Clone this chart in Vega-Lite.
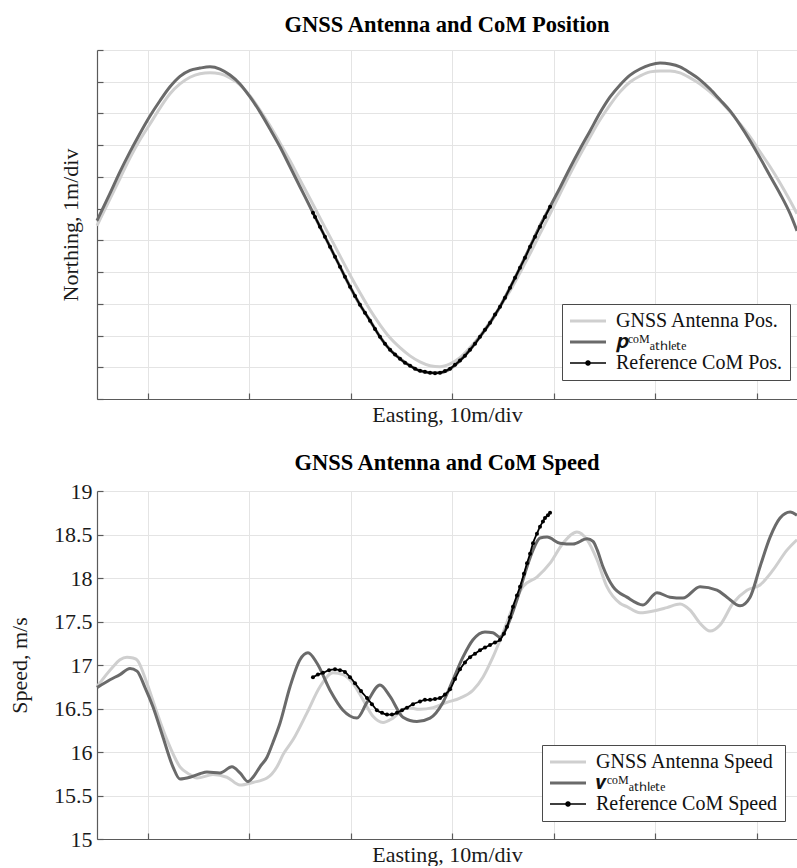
{
  "$schema": "https://vega.github.io/schema/vega-lite/v6.json",
  "padding": {"left": 8, "right": 0, "top": 13, "bottom": 0},
  "background": "white",
  "config": {
    "font": "Liberation Serif",
    "view": {"stroke": null},
    "title": {"font": "Liberation Serif", "fontSize": 22.5, "fontWeight": "bold", "color": "#000", "anchor": "middle", "frame": "group", "offset": 13},
    "axis": {
      "domainColor": "#5a5a5a", "domainWidth": 1.2, "tickColor": "#5a5a5a", "tickSize": -6, "tickWidth": 1.2,
      "grid": true, "gridColor": "#e4e4e4", "gridWidth": 1,
      "labelFont": "Liberation Serif", "labelFontSize": 22, "labelColor": "#1a1a1a", "labelPadding": 11,
      "titleFont": "Liberation Serif", "titleFontSize": 22, "titleFontWeight": "normal", "titleColor": "#1a1a1a"
    },
    "legend": {"labelFont": "Liberation Serif", "labelFontSize": 20, "labelColor": "#111", "labelLimit": 400}
  },
  "datasets": {
    "pos": [
      {"series":"GNSS Antenna Pos.","e":5.00,"n":5.46},{"series":"GNSS Antenna Pos.","e":6.28,"n":6.31},{"series":"GNSS Antenna Pos.","e":7.26,"n":6.95},{"series":"GNSS Antenna Pos.","e":8.25,"n":7.60},{"series":"GNSS Antenna Pos.","e":9.23,"n":8.17},{"series":"GNSS Antenna Pos.","e":10.22,"n":8.67},{"series":"GNSS Antenna Pos.","e":11.20,"n":9.17},{"series":"GNSS Antenna Pos.","e":12.19,"n":9.62},{"series":"GNSS Antenna Pos.","e":13.17,"n":9.93},{"series":"GNSS Antenna Pos.","e":14.16,"n":10.14},{"series":"GNSS Antenna Pos.","e":15.14,"n":10.25},{"series":"GNSS Antenna Pos.","e":16.13,"n":10.28},{"series":"GNSS Antenna Pos.","e":17.11,"n":10.25},{"series":"GNSS Antenna Pos.","e":18.10,"n":10.12},{"series":"GNSS Antenna Pos.","e":19.08,"n":9.90},{"series":"GNSS Antenna Pos.","e":20.07,"n":9.55},{"series":"GNSS Antenna Pos.","e":21.05,"n":9.11},{"series":"GNSS Antenna Pos.","e":22.04,"n":8.61},{"series":"GNSS Antenna Pos.","e":23.02,"n":8.07},{"series":"GNSS Antenna Pos.","e":24.01,"n":7.51},{"series":"GNSS Antenna Pos.","e":24.99,"n":6.91},{"series":"GNSS Antenna Pos.","e":25.98,"n":6.31},{"series":"GNSS Antenna Pos.","e":26.96,"n":5.71},{"series":"GNSS Antenna Pos.","e":27.95,"n":5.11},{"series":"GNSS Antenna Pos.","e":28.93,"n":4.51},{"series":"GNSS Antenna Pos.","e":29.92,"n":3.91},{"series":"GNSS Antenna Pos.","e":30.90,"n":3.35},{"series":"GNSS Antenna Pos.","e":31.89,"n":2.81},{"series":"GNSS Antenna Pos.","e":32.87,"n":2.34},{"series":"GNSS Antenna Pos.","e":33.86,"n":1.93},{"series":"GNSS Antenna Pos.","e":34.84,"n":1.62},{"series":"GNSS Antenna Pos.","e":35.83,"n":1.36},{"series":"GNSS Antenna Pos.","e":36.81,"n":1.17},{"series":"GNSS Antenna Pos.","e":37.80,"n":1.05},{"series":"GNSS Antenna Pos.","e":38.78,"n":1.02},{"series":"GNSS Antenna Pos.","e":39.77,"n":1.11},{"series":"GNSS Antenna Pos.","e":40.75,"n":1.30},{"series":"GNSS Antenna Pos.","e":41.74,"n":1.62},{"series":"GNSS Antenna Pos.","e":42.72,"n":1.99},{"series":"GNSS Antenna Pos.","e":43.71,"n":2.43},{"series":"GNSS Antenna Pos.","e":44.69,"n":2.91},{"series":"GNSS Antenna Pos.","e":45.68,"n":3.41},{"series":"GNSS Antenna Pos.","e":46.66,"n":3.98},{"series":"GNSS Antenna Pos.","e":47.65,"n":4.58},{"series":"GNSS Antenna Pos.","e":48.63,"n":5.21},{"series":"GNSS Antenna Pos.","e":49.62,"n":5.84},{"series":"GNSS Antenna Pos.","e":50.60,"n":6.47},{"series":"GNSS Antenna Pos.","e":51.59,"n":7.10},{"series":"GNSS Antenna Pos.","e":52.57,"n":7.69},{"series":"GNSS Antenna Pos.","e":53.56,"n":8.26},{"series":"GNSS Antenna Pos.","e":54.54,"n":8.80},{"series":"GNSS Antenna Pos.","e":55.53,"n":9.27},{"series":"GNSS Antenna Pos.","e":56.51,"n":9.68},{"series":"GNSS Antenna Pos.","e":57.50,"n":9.99},{"series":"GNSS Antenna Pos.","e":58.48,"n":10.18},{"series":"GNSS Antenna Pos.","e":59.47,"n":10.31},{"series":"GNSS Antenna Pos.","e":60.45,"n":10.34},{"series":"GNSS Antenna Pos.","e":61.44,"n":10.34},{"series":"GNSS Antenna Pos.","e":62.42,"n":10.28},{"series":"GNSS Antenna Pos.","e":63.41,"n":10.12},{"series":"GNSS Antenna Pos.","e":64.39,"n":9.93},{"series":"GNSS Antenna Pos.","e":65.38,"n":9.68},{"series":"GNSS Antenna Pos.","e":66.36,"n":9.40},{"series":"GNSS Antenna Pos.","e":67.35,"n":9.05},{"series":"GNSS Antenna Pos.","e":68.33,"n":8.67},{"series":"GNSS Antenna Pos.","e":69.32,"n":8.26},{"series":"GNSS Antenna Pos.","e":70.30,"n":7.79},{"series":"GNSS Antenna Pos.","e":71.29,"n":7.32},{"series":"GNSS Antenna Pos.","e":72.27,"n":6.81},{"series":"GNSS Antenna Pos.","e":73.26,"n":6.25},{"series":"GNSS Antenna Pos.","e":73.94,"n":5.84},
      {"series":"𝒑ᶜᵒᴹₐₜₕₗₑₜₑ","e":5.00,"n":5.62},{"series":"𝒑ᶜᵒᴹₐₜₕₗₑₜₑ","e":6.28,"n":6.48},{"series":"𝒑ᶜᵒᴹₐₜₕₗₑₜₑ","e":7.26,"n":7.16},{"series":"𝒑ᶜᵒᴹₐₜₕₗₑₜₑ","e":8.25,"n":7.79},{"series":"𝒑ᶜᵒᴹₐₜₕₗₑₜₑ","e":9.23,"n":8.37},{"series":"𝒑ᶜᵒᴹₐₜₕₗₑₜₑ","e":10.22,"n":8.92},{"series":"𝒑ᶜᵒᴹₐₜₕₗₑₜₑ","e":11.20,"n":9.40},{"series":"𝒑ᶜᵒᴹₐₜₕₗₑₜₑ","e":12.19,"n":9.84},{"series":"𝒑ᶜᵒᴹₐₜₕₗₑₜₑ","e":13.17,"n":10.17},{"series":"𝒑ᶜᵒᴹₐₜₕₗₑₜₑ","e":14.16,"n":10.36},{"series":"𝒑ᶜᵒᴹₐₜₕₗₑₜₑ","e":15.14,"n":10.43},{"series":"𝒑ᶜᵒᴹₐₜₕₗₑₜₑ","e":16.13,"n":10.47},{"series":"𝒑ᶜᵒᴹₐₜₕₗₑₜₑ","e":17.11,"n":10.40},{"series":"𝒑ᶜᵒᴹₐₜₕₗₑₜₑ","e":18.10,"n":10.21},{"series":"𝒑ᶜᵒᴹₐₜₕₗₑₜₑ","e":19.08,"n":9.93},{"series":"𝒑ᶜᵒᴹₐₜₕₗₑₜₑ","e":20.07,"n":9.52},{"series":"𝒑ᶜᵒᴹₐₜₕₗₑₜₑ","e":21.05,"n":9.05},{"series":"𝒑ᶜᵒᴹₐₜₕₗₑₜₑ","e":22.04,"n":8.51},{"series":"𝒑ᶜᵒᴹₐₜₕₗₑₜₑ","e":23.02,"n":7.95},{"series":"𝒑ᶜᵒᴹₐₜₕₗₑₜₑ","e":24.01,"n":7.32},{"series":"𝒑ᶜᵒᴹₐₜₕₗₑₜₑ","e":24.99,"n":6.69},{"series":"𝒑ᶜᵒᴹₐₜₕₗₑₜₑ","e":25.98,"n":6.06},{"series":"𝒑ᶜᵒᴹₐₜₕₗₑₜₑ","e":26.96,"n":5.43},{"series":"𝒑ᶜᵒᴹₐₜₕₗₑₜₑ","e":27.95,"n":4.80},{"series":"𝒑ᶜᵒᴹₐₜₕₗₑₜₑ","e":28.93,"n":4.17},{"series":"𝒑ᶜᵒᴹₐₜₕₗₑₜₑ","e":29.92,"n":3.54},{"series":"𝒑ᶜᵒᴹₐₜₕₗₑₜₑ","e":30.90,"n":2.97},{"series":"𝒑ᶜᵒᴹₐₜₕₗₑₜₑ","e":31.89,"n":2.47},{"series":"𝒑ᶜᵒᴹₐₜₕₗₑₜₑ","e":32.87,"n":1.96},{"series":"𝒑ᶜᵒᴹₐₜₕₗₑₜₑ","e":33.86,"n":1.55},{"series":"𝒑ᶜᵒᴹₐₜₕₗₑₜₑ","e":34.84,"n":1.27},{"series":"𝒑ᶜᵒᴹₐₜₕₗₑₜₑ","e":35.83,"n":1.05},{"series":"𝒑ᶜᵒᴹₐₜₕₗₑₜₑ","e":36.81,"n":0.89},{"series":"𝒑ᶜᵒᴹₐₜₕₗₑₜₑ","e":37.80,"n":0.83},{"series":"𝒑ᶜᵒᴹₐₜₕₗₑₜₑ","e":38.78,"n":0.83},{"series":"𝒑ᶜᵒᴹₐₜₕₗₑₜₑ","e":39.77,"n":0.95},{"series":"𝒑ᶜᵒᴹₐₜₕₗₑₜₑ","e":40.75,"n":1.21},{"series":"𝒑ᶜᵒᴹₐₜₕₗₑₜₑ","e":41.74,"n":1.55},{"series":"𝒑ᶜᵒᴹₐₜₕₗₑₜₑ","e":42.72,"n":1.96},{"series":"𝒑ᶜᵒᴹₐₜₕₗₑₜₑ","e":43.71,"n":2.40},{"series":"𝒑ᶜᵒᴹₐₜₕₗₑₜₑ","e":44.69,"n":2.91},{"series":"𝒑ᶜᵒᴹₐₜₕₗₑₜₑ","e":45.68,"n":3.51},{"series":"𝒑ᶜᵒᴹₐₜₕₗₑₜₑ","e":46.66,"n":4.14},{"series":"𝒑ᶜᵒᴹₐₜₕₗₑₜₑ","e":47.65,"n":4.80},{"series":"𝒑ᶜᵒᴹₐₜₕₗₑₜₑ","e":48.63,"n":5.46},{"series":"𝒑ᶜᵒᴹₐₜₕₗₑₜₑ","e":49.62,"n":6.06},{"series":"𝒑ᶜᵒᴹₐₜₕₗₑₜₑ","e":50.60,"n":6.66},{"series":"𝒑ᶜᵒᴹₐₜₕₗₑₜₑ","e":51.59,"n":7.29},{"series":"𝒑ᶜᵒᴹₐₜₕₗₑₜₑ","e":52.57,"n":7.88},{"series":"𝒑ᶜᵒᴹₐₜₕₗₑₜₑ","e":53.56,"n":8.45},{"series":"𝒑ᶜᵒᴹₐₜₕₗₑₜₑ","e":54.54,"n":9.02},{"series":"𝒑ᶜᵒᴹₐₜₕₗₑₜₑ","e":55.53,"n":9.52},{"series":"𝒑ᶜᵒᴹₐₜₕₗₑₜₑ","e":56.51,"n":9.90},{"series":"𝒑ᶜᵒᴹₐₜₕₗₑₜₑ","e":57.50,"n":10.21},{"series":"𝒑ᶜᵒᴹₐₜₕₗₑₜₑ","e":58.48,"n":10.40},{"series":"𝒑ᶜᵒᴹₐₜₕₗₑₜₑ","e":59.47,"n":10.53},{"series":"𝒑ᶜᵒᴹₐₜₕₗₑₜₑ","e":60.45,"n":10.59},{"series":"𝒑ᶜᵒᴹₐₜₕₗₑₜₑ","e":61.44,"n":10.56},{"series":"𝒑ᶜᵒᴹₐₜₕₗₑₜₑ","e":62.42,"n":10.47},{"series":"𝒑ᶜᵒᴹₐₜₕₗₑₜₑ","e":63.41,"n":10.28},{"series":"𝒑ᶜᵒᴹₐₜₕₗₑₜₑ","e":64.39,"n":10.06},{"series":"𝒑ᶜᵒᴹₐₜₕₗₑₜₑ","e":65.38,"n":9.77},{"series":"𝒑ᶜᵒᴹₐₜₕₗₑₜₑ","e":66.36,"n":9.43},{"series":"𝒑ᶜᵒᴹₐₜₕₗₑₜₑ","e":67.35,"n":9.08},{"series":"𝒑ᶜᵒᴹₐₜₕₗₑₜₑ","e":68.33,"n":8.64},{"series":"𝒑ᶜᵒᴹₐₜₕₗₑₜₑ","e":69.32,"n":8.14},{"series":"𝒑ᶜᵒᴹₐₜₕₗₑₜₑ","e":70.30,"n":7.60},{"series":"𝒑ᶜᵒᴹₐₜₕₗₑₜₑ","e":71.29,"n":7.03},{"series":"𝒑ᶜᵒᴹₐₜₕₗₑₜₑ","e":72.27,"n":6.47},{"series":"𝒑ᶜᵒᴹₐₜₕₗₑₜₑ","e":73.26,"n":5.84},{"series":"𝒑ᶜᵒᴹₐₜₕₗₑₜₑ","e":73.94,"n":5.30},
      {"series":"Reference CoM Pos.","e":26.27,"n":5.87},{"series":"Reference CoM Pos.","e":26.47,"n":5.74},{"series":"Reference CoM Pos.","e":26.96,"n":5.43},{"series":"Reference CoM Pos.","e":27.45,"n":5.11},{"series":"Reference CoM Pos.","e":27.95,"n":4.80},{"series":"Reference CoM Pos.","e":28.44,"n":4.48},{"series":"Reference CoM Pos.","e":28.93,"n":4.17},{"series":"Reference CoM Pos.","e":29.42,"n":3.85},{"series":"Reference CoM Pos.","e":29.92,"n":3.54},{"series":"Reference CoM Pos.","e":30.41,"n":3.25},{"series":"Reference CoM Pos.","e":30.90,"n":2.97},{"series":"Reference CoM Pos.","e":31.39,"n":2.72},{"series":"Reference CoM Pos.","e":31.89,"n":2.47},{"series":"Reference CoM Pos.","e":32.38,"n":2.21},{"series":"Reference CoM Pos.","e":32.87,"n":1.96},{"series":"Reference CoM Pos.","e":33.36,"n":1.74},{"series":"Reference CoM Pos.","e":33.86,"n":1.55},{"series":"Reference CoM Pos.","e":34.35,"n":1.40},{"series":"Reference CoM Pos.","e":34.84,"n":1.27},{"series":"Reference CoM Pos.","e":35.33,"n":1.14},{"series":"Reference CoM Pos.","e":35.83,"n":1.05},{"series":"Reference CoM Pos.","e":36.32,"n":0.95},{"series":"Reference CoM Pos.","e":36.81,"n":0.89},{"series":"Reference CoM Pos.","e":37.30,"n":0.86},{"series":"Reference CoM Pos.","e":37.80,"n":0.83},{"series":"Reference CoM Pos.","e":38.29,"n":0.81},{"series":"Reference CoM Pos.","e":38.78,"n":0.83},{"series":"Reference CoM Pos.","e":39.27,"n":0.88},{"series":"Reference CoM Pos.","e":39.77,"n":0.95},{"series":"Reference CoM Pos.","e":40.26,"n":1.08},{"series":"Reference CoM Pos.","e":40.75,"n":1.21},{"series":"Reference CoM Pos.","e":41.24,"n":1.36},{"series":"Reference CoM Pos.","e":41.74,"n":1.55},{"series":"Reference CoM Pos.","e":42.23,"n":1.74},{"series":"Reference CoM Pos.","e":42.72,"n":1.96},{"series":"Reference CoM Pos.","e":43.21,"n":2.18},{"series":"Reference CoM Pos.","e":43.71,"n":2.40},{"series":"Reference CoM Pos.","e":44.20,"n":2.66},{"series":"Reference CoM Pos.","e":44.69,"n":2.91},{"series":"Reference CoM Pos.","e":45.18,"n":3.19},{"series":"Reference CoM Pos.","e":45.68,"n":3.51},{"series":"Reference CoM Pos.","e":46.17,"n":3.82},{"series":"Reference CoM Pos.","e":46.66,"n":4.14},{"series":"Reference CoM Pos.","e":47.15,"n":4.45},{"series":"Reference CoM Pos.","e":47.65,"n":4.80},{"series":"Reference CoM Pos.","e":48.14,"n":5.11},{"series":"Reference CoM Pos.","e":48.63,"n":5.43},{"series":"Reference CoM Pos.","e":49.12,"n":5.74},{"series":"Reference CoM Pos.","e":49.62,"n":6.06}
    ],
    "speed": [
      {"series":"GNSS Antenna Speed","e":5.00,"v":16.75},{"series":"GNSS Antenna Speed","e":6.58,"v":16.98},{"series":"GNSS Antenna Speed","e":7.26,"v":17.06},{"series":"GNSS Antenna Speed","e":7.95,"v":17.09},{"series":"GNSS Antenna Speed","e":8.55,"v":17.08},{"series":"GNSS Antenna Speed","e":8.94,"v":17.06},{"series":"GNSS Antenna Speed","e":9.92,"v":16.79},{"series":"GNSS Antenna Speed","e":10.91,"v":16.45},{"series":"GNSS Antenna Speed","e":11.89,"v":16.14},{"series":"GNSS Antenna Speed","e":13.17,"v":15.83},{"series":"GNSS Antenna Speed","e":14.16,"v":15.74},{"series":"GNSS Antenna Speed","e":14.85,"v":15.70},{"series":"GNSS Antenna Speed","e":16.42,"v":15.74},{"series":"GNSS Antenna Speed","e":17.80,"v":15.71},{"series":"GNSS Antenna Speed","e":19.08,"v":15.62},{"series":"GNSS Antenna Speed","e":20.36,"v":15.65},{"series":"GNSS Antenna Speed","e":21.74,"v":15.70},{"series":"GNSS Antenna Speed","e":22.73,"v":15.83},{"series":"GNSS Antenna Speed","e":23.32,"v":15.97},{"series":"GNSS Antenna Speed","e":24.30,"v":16.14},{"series":"GNSS Antenna Speed","e":25.68,"v":16.45},{"series":"GNSS Antenna Speed","e":26.96,"v":16.75},{"series":"GNSS Antenna Speed","e":28.24,"v":16.91},{"series":"GNSS Antenna Speed","e":29.23,"v":16.89},{"series":"GNSS Antenna Speed","e":30.21,"v":16.79},{"series":"GNSS Antenna Speed","e":31.20,"v":16.60},{"series":"GNSS Antenna Speed","e":32.18,"v":16.41},{"series":"GNSS Antenna Speed","e":33.17,"v":16.34},{"series":"GNSS Antenna Speed","e":34.15,"v":16.39},{"series":"GNSS Antenna Speed","e":35.53,"v":16.51},{"series":"GNSS Antenna Speed","e":36.81,"v":16.49},{"series":"GNSS Antenna Speed","e":38.09,"v":16.51},{"series":"GNSS Antenna Speed","e":39.47,"v":16.57},{"series":"GNSS Antenna Speed","e":40.75,"v":16.62},{"series":"GNSS Antenna Speed","e":42.03,"v":16.71},{"series":"GNSS Antenna Speed","e":43.01,"v":16.86},{"series":"GNSS Antenna Speed","e":43.99,"v":17.09},{"series":"GNSS Antenna Speed","e":44.98,"v":17.37},{"series":"GNSS Antenna Speed","e":45.97,"v":17.67},{"series":"GNSS Antenna Speed","e":46.95,"v":17.90},{"series":"GNSS Antenna Speed","e":48.33,"v":18.01},{"series":"GNSS Antenna Speed","e":49.62,"v":18.17},{"series":"GNSS Antenna Speed","e":50.89,"v":18.40},{"series":"GNSS Antenna Speed","e":52.27,"v":18.53},{"series":"GNSS Antenna Speed","e":53.26,"v":18.44},{"series":"GNSS Antenna Speed","e":54.24,"v":18.21},{"series":"GNSS Antenna Speed","e":55.22,"v":17.90},{"series":"GNSS Antenna Speed","e":56.51,"v":17.71},{"series":"GNSS Antenna Speed","e":57.19,"v":17.67},{"series":"GNSS Antenna Speed","e":58.48,"v":17.60},{"series":"GNSS Antenna Speed","e":60.15,"v":17.63},{"series":"GNSS Antenna Speed","e":61.13,"v":17.66},{"series":"GNSS Antenna Speed","e":62.42,"v":17.70},{"series":"GNSS Antenna Speed","e":63.41,"v":17.63},{"series":"GNSS Antenna Speed","e":64.39,"v":17.48},{"series":"GNSS Antenna Speed","e":65.38,"v":17.39},{"series":"GNSS Antenna Speed","e":66.36,"v":17.46},{"series":"GNSS Antenna Speed","e":67.63,"v":17.71},{"series":"GNSS Antenna Speed","e":69.01,"v":17.86},{"series":"GNSS Antenna Speed","e":70.30,"v":17.92},{"series":"GNSS Antenna Speed","e":71.57,"v":18.09},{"series":"GNSS Antenna Speed","e":72.95,"v":18.32},{"series":"GNSS Antenna Speed","e":73.94,"v":18.44},
      {"series":"𝒗ᶜᵒᴹₐₜₕₗₑₜₑ","e":5.00,"v":16.74},{"series":"𝒗ᶜᵒᴹₐₜₕₗₑₜₑ","e":6.28,"v":16.83},{"series":"𝒗ᶜᵒᴹₐₜₕₗₑₜₑ","e":7.26,"v":16.89},{"series":"𝒗ᶜᵒᴹₐₜₕₗₑₜₑ","e":8.25,"v":16.96},{"series":"𝒗ᶜᵒᴹₐₜₕₗₑₜₑ","e":8.94,"v":16.93},{"series":"𝒗ᶜᵒᴹₐₜₕₗₑₜₑ","e":9.73,"v":16.74},{"series":"𝒗ᶜᵒᴹₐₜₕₗₑₜₑ","e":10.51,"v":16.52},{"series":"𝒗ᶜᵒᴹₐₜₕₗₑₜₑ","e":11.50,"v":16.17},{"series":"𝒗ᶜᵒᴹₐₜₕₗₑₜₑ","e":12.48,"v":15.83},{"series":"𝒗ᶜᵒᴹₐₜₕₗₑₜₑ","e":13.17,"v":15.69},{"series":"𝒗ᶜᵒᴹₐₜₕₗₑₜₑ","e":14.16,"v":15.71},{"series":"𝒗ᶜᵒᴹₐₜₕₗₑₜₑ","e":15.14,"v":15.75},{"series":"𝒗ᶜᵒᴹₐₜₕₗₑₜₑ","e":15.83,"v":15.77},{"series":"𝒗ᶜᵒᴹₐₜₕₗₑₜₑ","e":17.11,"v":15.76},{"series":"𝒗ᶜᵒᴹₐₜₕₗₑₜₑ","e":18.29,"v":15.83},{"series":"𝒗ᶜᵒᴹₐₜₕₗₑₜₑ","e":19.08,"v":15.76},{"series":"𝒗ᶜᵒᴹₐₜₕₗₑₜₑ","e":19.87,"v":15.66},{"series":"𝒗ᶜᵒᴹₐₜₕₗₑₜₑ","e":20.36,"v":15.71},{"series":"𝒗ᶜᵒᴹₐₜₕₗₑₜₑ","e":21.05,"v":15.83},{"series":"𝒗ᶜᵒᴹₐₜₕₗₑₜₑ","e":21.74,"v":15.94},{"series":"𝒗ᶜᵒᴹₐₜₕₗₑₜₑ","e":22.33,"v":16.11},{"series":"𝒗ᶜᵒᴹₐₜₕₗₑₜₑ","e":23.02,"v":16.33},{"series":"𝒗ᶜᵒᴹₐₜₕₗₑₜₑ","e":24.01,"v":16.75},{"series":"𝒗ᶜᵒᴹₐₜₕₗₑₜₑ","e":24.99,"v":17.06},{"series":"𝒗ᶜᵒᴹₐₜₕₗₑₜₑ","e":25.78,"v":17.14},{"series":"𝒗ᶜᵒᴹₐₜₕₗₑₜₑ","e":26.67,"v":17.02},{"series":"𝒗ᶜᵒᴹₐₜₕₗₑₜₑ","e":27.95,"v":16.71},{"series":"𝒗ᶜᵒᴹₐₜₕₗₑₜₑ","e":29.23,"v":16.48},{"series":"𝒗ᶜᵒᴹₐₜₕₗₑₜₑ","e":30.60,"v":16.39},{"series":"𝒗ᶜᵒᴹₐₜₕₗₑₜₑ","e":31.59,"v":16.57},{"series":"𝒗ᶜᵒᴹₐₜₕₗₑₜₑ","e":32.87,"v":16.77},{"series":"𝒗ᶜᵒᴹₐₜₕₗₑₜₑ","e":33.86,"v":16.64},{"series":"𝒗ᶜᵒᴹₐₜₕₗₑₜₑ","e":35.13,"v":16.40},{"series":"𝒗ᶜᵒᴹₐₜₕₗₑₜₑ","e":36.51,"v":16.35},{"series":"𝒗ᶜᵒᴹₐₜₕₗₑₜₑ","e":37.80,"v":16.39},{"series":"𝒗ᶜᵒᴹₐₜₕₗₑₜₑ","e":39.07,"v":16.57},{"series":"𝒗ᶜᵒᴹₐₜₕₗₑₜₑ","e":40.06,"v":16.83},{"series":"𝒗ᶜᵒᴹₐₜₕₗₑₜₑ","e":41.04,"v":17.09},{"series":"𝒗ᶜᵒᴹₐₜₕₗₑₜₑ","e":42.03,"v":17.29},{"series":"𝒗ᶜᵒᴹₐₜₕₗₑₜₑ","e":43.21,"v":17.38},{"series":"𝒗ᶜᵒᴹₐₜₕₗₑₜₑ","e":43.99,"v":17.37},{"series":"𝒗ᶜᵒᴹₐₜₕₗₑₜₑ","e":44.69,"v":17.32},{"series":"𝒗ᶜᵒᴹₐₜₕₗₑₜₑ","e":45.38,"v":17.44},{"series":"𝒗ᶜᵒᴹₐₜₕₗₑₜₑ","e":46.36,"v":17.75},{"series":"𝒗ᶜᵒᴹₐₜₕₗₑₜₑ","e":47.35,"v":18.13},{"series":"𝒗ᶜᵒᴹₐₜₕₗₑₜₑ","e":47.94,"v":18.32},{"series":"𝒗ᶜᵒᴹₐₜₕₗₑₜₑ","e":48.63,"v":18.46},{"series":"𝒗ᶜᵒᴹₐₜₕₗₑₜₑ","e":49.32,"v":18.47},{"series":"𝒗ᶜᵒᴹₐₜₕₗₑₜₑ","e":50.60,"v":18.40},{"series":"𝒗ᶜᵒᴹₐₜₕₗₑₜₑ","e":51.88,"v":18.39},{"series":"𝒗ᶜᵒᴹₐₜₕₗₑₜₑ","e":53.26,"v":18.45},{"series":"𝒗ᶜᵒᴹₐₜₕₗₑₜₑ","e":53.85,"v":18.42},{"series":"𝒗ᶜᵒᴹₐₜₕₗₑₜₑ","e":54.24,"v":18.33},{"series":"𝒗ᶜᵒᴹₐₜₕₗₑₜₑ","e":54.83,"v":18.13},{"series":"𝒗ᶜᵒᴹₐₜₕₗₑₜₑ","e":55.82,"v":17.90},{"series":"𝒗ᶜᵒᴹₐₜₕₗₑₜₑ","e":57.19,"v":17.78},{"series":"𝒗ᶜᵒᴹₐₜₕₗₑₜₑ","e":58.77,"v":17.69},{"series":"𝒗ᶜᵒᴹₐₜₕₗₑₜₑ","e":60.15,"v":17.83},{"series":"𝒗ᶜᵒᴹₐₜₕₗₑₜₑ","e":61.43,"v":17.78},{"series":"𝒗ᶜᵒᴹₐₜₕₗₑₜₑ","e":62.71,"v":17.77},{"series":"𝒗ᶜᵒᴹₐₜₕₗₑₜₑ","e":64.39,"v":17.90},{"series":"𝒗ᶜᵒᴹₐₜₕₗₑₜₑ","e":66.06,"v":17.86},{"series":"𝒗ᶜᵒᴹₐₜₕₗₑₜₑ","e":67.04,"v":17.78},{"series":"𝒗ᶜᵒᴹₐₜₕₗₑₜₑ","e":68.33,"v":17.68},{"series":"𝒗ᶜᵒᴹₐₜₕₗₑₜₑ","e":69.32,"v":17.78},{"series":"𝒗ᶜᵒᴹₐₜₕₗₑₜₑ","e":70.30,"v":18.13},{"series":"𝒗ᶜᵒᴹₐₜₕₗₑₜₑ","e":71.29,"v":18.47},{"series":"𝒗ᶜᵒᴹₐₜₕₗₑₜₑ","e":72.27,"v":18.69},{"series":"𝒗ᶜᵒᴹₐₜₕₗₑₜₑ","e":73.26,"v":18.76},{"series":"𝒗ᶜᵒᴹₐₜₕₗₑₜₑ","e":73.94,"v":18.72},
      {"series":"Reference CoM Speed","e":26.27,"v":16.86},{"series":"Reference CoM Speed","e":26.76,"v":16.89},{"series":"Reference CoM Speed","e":27.26,"v":16.91},{"series":"Reference CoM Speed","e":27.85,"v":16.94},{"series":"Reference CoM Speed","e":28.44,"v":16.95},{"series":"Reference CoM Speed","e":28.93,"v":16.94},{"series":"Reference CoM Speed","e":29.42,"v":16.92},{"series":"Reference CoM Speed","e":29.92,"v":16.86},{"series":"Reference CoM Speed","e":30.41,"v":16.79},{"series":"Reference CoM Speed","e":31.00,"v":16.70},{"series":"Reference CoM Speed","e":31.59,"v":16.62},{"series":"Reference CoM Speed","e":32.08,"v":16.55},{"series":"Reference CoM Speed","e":32.57,"v":16.48},{"series":"Reference CoM Speed","e":33.07,"v":16.45},{"series":"Reference CoM Speed","e":33.56,"v":16.43},{"series":"Reference CoM Speed","e":34.05,"v":16.43},{"series":"Reference CoM Speed","e":34.54,"v":16.45},{"series":"Reference CoM Speed","e":35.04,"v":16.48},{"series":"Reference CoM Speed","e":35.53,"v":16.51},{"series":"Reference CoM Speed","e":36.12,"v":16.55},{"series":"Reference CoM Speed","e":36.81,"v":16.58},{"series":"Reference CoM Speed","e":37.30,"v":16.60},{"series":"Reference CoM Speed","e":37.80,"v":16.60},{"series":"Reference CoM Speed","e":38.29,"v":16.61},{"series":"Reference CoM Speed","e":38.78,"v":16.62},{"series":"Reference CoM Speed","e":39.27,"v":16.66},{"series":"Reference CoM Speed","e":39.77,"v":16.72},{"series":"Reference CoM Speed","e":40.26,"v":16.84},{"series":"Reference CoM Speed","e":40.75,"v":16.95},{"series":"Reference CoM Speed","e":41.24,"v":17.03},{"series":"Reference CoM Speed","e":41.74,"v":17.09},{"series":"Reference CoM Speed","e":42.23,"v":17.13},{"series":"Reference CoM Speed","e":42.72,"v":17.17},{"series":"Reference CoM Speed","e":43.21,"v":17.20},{"series":"Reference CoM Speed","e":43.71,"v":17.23},{"series":"Reference CoM Speed","e":44.20,"v":17.26},{"series":"Reference CoM Speed","e":44.69,"v":17.29},{"series":"Reference CoM Speed","e":45.08,"v":17.36},{"series":"Reference CoM Speed","e":45.38,"v":17.44},{"series":"Reference CoM Speed","e":45.68,"v":17.55},{"series":"Reference CoM Speed","e":45.97,"v":17.67},{"series":"Reference CoM Speed","e":46.36,"v":17.80},{"series":"Reference CoM Speed","e":46.66,"v":17.90},{"series":"Reference CoM Speed","e":47.05,"v":18.05},{"series":"Reference CoM Speed","e":47.35,"v":18.17},{"series":"Reference CoM Speed","e":47.65,"v":18.28},{"series":"Reference CoM Speed","e":47.94,"v":18.40},{"series":"Reference CoM Speed","e":48.33,"v":18.51},{"series":"Reference CoM Speed","e":48.63,"v":18.59},{"series":"Reference CoM Speed","e":48.92,"v":18.65},{"series":"Reference CoM Speed","e":49.12,"v":18.69},{"series":"Reference CoM Speed","e":49.41,"v":18.72},{"series":"Reference CoM Speed","e":49.62,"v":18.75}
    ]
  },
  "spacing": 25,
  "resolve": {"scale": {"color": "independent"}, "legend": {"color": "independent"}},
  "vconcat": [
    {
      "width": 700,
      "height": 349,
      "title": {"text": "GNSS Antenna and CoM Position", "offset": 13},
      "data": {"name": "pos"},
      "layer": [
        {
          "mark": {"type": "line", "interpolate": "monotone"},
          "encoding": {
            "x": {"field": "e", "type": "quantitative", "scale": {"domain": [5, 73.94], "nice": false, "zero": false}, "axis": {"title": "Easting, 10m/div", "values": [10, 20, 30, 40, 50, 60, 70], "tickCount": 20, "labels": false, "titlePadding": 5}},
            "y": {"field": "n", "type": "quantitative", "scale": {"domain": [0, 11], "nice": false, "zero": false}, "axis": {"title": "Northing, 1m/div", "values": [0, 1, 2, 3, 4, 5, 6, 7, 8, 9, 10, 11], "tickCount": 20, "labels": false, "titlePadding": 14}},
            "color": {
              "field": "series", "type": "nominal",
              "scale": {"domain": ["GNSS Antenna Pos.", "𝒑ᶜᵒᴹₐₜₕₗₑₜₑ", "Reference CoM Pos."], "range": ["#cfcfcf", "#6a6a6a", "#000000"]},
              "legend": {
                "title": null, "orient": "none", "legendX": 465, "legendY": 254,
                "fillColor": "white", "strokeColor": "#4a4a4a", "padding": 7,
                "symbolType": "stroke", "symbolSize": 1296, "symbolStrokeWidth": 3, "symbolOffset": 9, "labelOffset": 18, "rowPadding": 1,
                "labelExpr": "datum.label + '   '",
                "encoding": {
                  "symbols": {
                    "shape": {"value": {"expr": "datum.value === 'Reference CoM Pos.' ? 'M-1,0H1M0.12,0A0.12,0.12,0,1,1,-0.12,0A0.12,0.12,0,1,1,0.12,0Z' : 'stroke'"}},
                    "strokeWidth": {"value": {"expr": "datum.value === 'Reference CoM Pos.' ? 1.3 : 3"}},
                    "fill": {"value": {"expr": "datum.value === 'Reference CoM Pos.' ? '#000' : 'transparent'"}}
                  }
                }
              }
            },
            "strokeWidth": {"condition": {"test": "datum.series === 'Reference CoM Pos.'", "value": 1.8}, "value": 3}
          }
        },
        {
          "transform": [{"filter": "datum.series === 'Reference CoM Pos.'"}],
          "mark": {"type": "point", "filled": true, "size": 16, "color": "#000", "opacity": 1},
          "encoding": {
            "x": {"field": "e", "type": "quantitative"},
            "y": {"field": "n", "type": "quantitative"}
          }
        }
      ]
    },
    {
      "width": 700,
      "height": 348,
      "title": {"text": "GNSS Antenna and CoM Speed", "offset": 6},
      "data": {"name": "speed"},
      "layer": [
        {
          "mark": {"type": "line", "interpolate": "monotone"},
          "encoding": {
            "x": {"field": "e", "type": "quantitative", "scale": {"domain": [5, 73.94], "nice": false, "zero": false}, "axis": {"title": "Easting, 10m/div", "values": [10, 20, 30, 40, 50, 60, 70], "tickCount": 20, "labels": false, "titlePadding": 5}},
            "y": {"field": "v", "type": "quantitative", "scale": {"domain": [15, 19], "nice": false, "zero": false}, "axis": {"title": "Speed, m/s", "values": [15, 15.5, 16, 16.5, 17, 17.5, 18, 18.5, 19], "tickCount": 20, "format": "~g", "titlePadding": 22}},
            "color": {
              "field": "series", "type": "nominal",
              "scale": {"domain": ["GNSS Antenna Speed", "𝒗ᶜᵒᴹₐₜₕₗₑₜₑ", "Reference CoM Speed"], "range": ["#cfcfcf", "#6a6a6a", "#000000"]},
              "legend": {
                "title": null, "orient": "none", "legendX": 445, "legendY": 254,
                "fillColor": "white", "strokeColor": "#4a4a4a", "padding": 7,
                "symbolType": "stroke", "symbolSize": 1296, "symbolStrokeWidth": 3, "symbolOffset": 9, "labelOffset": 18, "rowPadding": 1,
                "labelExpr": "datum.label + '   '",
                "encoding": {
                  "symbols": {
                    "shape": {"value": {"expr": "datum.value === 'Reference CoM Speed' ? 'M-1,0H1M0.12,0A0.12,0.12,0,1,1,-0.12,0A0.12,0.12,0,1,1,0.12,0Z' : 'stroke'"}},
                    "strokeWidth": {"value": {"expr": "datum.value === 'Reference CoM Speed' ? 1.3 : 3"}},
                    "fill": {"value": {"expr": "datum.value === 'Reference CoM Speed' ? '#000' : 'transparent'"}}
                  }
                }
              }
            },
            "strokeWidth": {"condition": {"test": "datum.series === 'Reference CoM Speed'", "value": 1.8}, "value": 3}
          }
        },
        {
          "transform": [{"filter": "datum.series === 'Reference CoM Speed'"}],
          "mark": {"type": "point", "filled": true, "size": 16, "color": "#000", "opacity": 1},
          "encoding": {
            "x": {"field": "e", "type": "quantitative"},
            "y": {"field": "v", "type": "quantitative"}
          }
        }
      ]
    }
  ]
}
